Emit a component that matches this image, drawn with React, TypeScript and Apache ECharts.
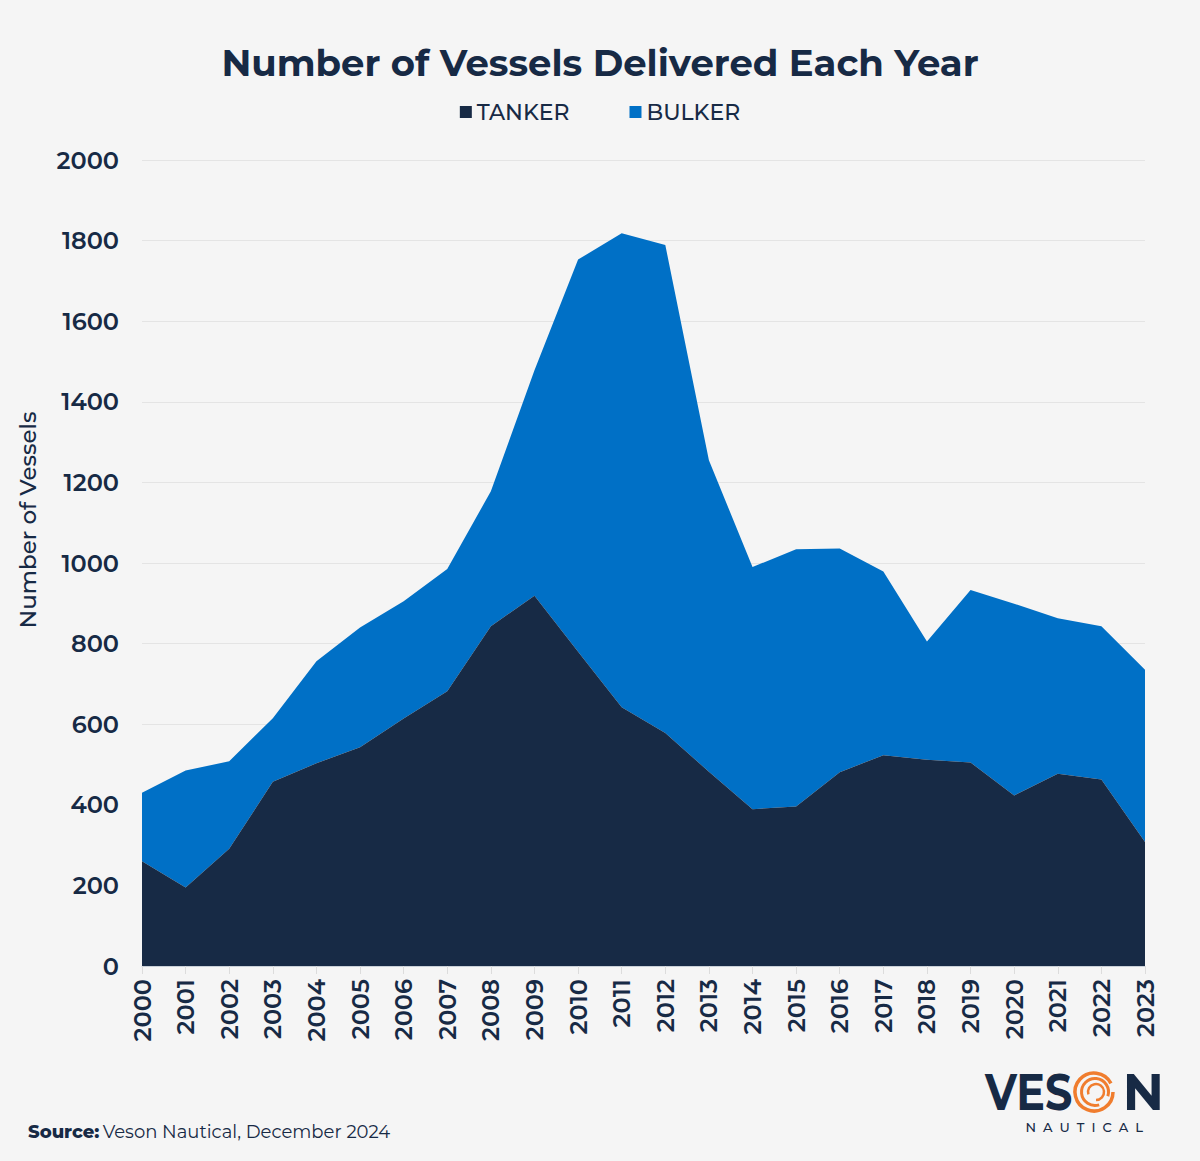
import React, { useEffect, useRef } from "react";
import * as echarts from "echarts";

const years = ["2000","2001","2002","2003","2004","2005","2006","2007","2008","2009","2010","2011","2012","2013","2014","2015","2016","2017","2018","2019","2020","2021","2022","2023"];
const tanker = [260, 195, 291, 457, 503, 543, 614, 682, 843, 919, 780, 642, 578, 482, 389, 396, 481, 523, 512, 505, 423, 477, 463, 308];
const totals = [430, 485, 508, 615, 756, 840, 905, 985, 1178, 1478, 1753, 1818, 1789, 1255, 990, 1034, 1036, 979, 805, 933, 899, 863, 843, 735];
const bulker = totals.map((t, i) => t - tanker[i]);
const yTicks = { min: 0, max: 2000, interval: 200 };

const NAVY = "#172a45";
const BLUE = "#0070c6";
const ORANGE = "#f07d2e";
const FONT = "Montserrat, Inter, 'Noto Sans', sans-serif";

export default function App() {
  const ref = useRef<HTMLDivElement>(null);
  useEffect(() => {
    document.body.style.margin = "0";
    const chart = echarts.init(ref.current!, null, { renderer: "svg" });
    chart.setOption({
      animation: false,
      backgroundColor: "#f5f5f5",
      textStyle: { fontFamily: FONT },
      title: {
        text: "Number of Vessels Delivered Each Year",
        left: "center",
        top: 39,
        textStyle: { fontSize: 37, fontWeight: 700, color: NAVY, fontFamily: FONT },
      },
      legend: {
        top: 96,
        left: "center",
        itemGap: 60,
        itemWidth: 12,
        itemHeight: 12,
        icon: "rect",
        textStyle: { fontSize: 22, color: NAVY, fontWeight: 500, fontFamily: FONT },
        data: ["TANKER", "BULKER"],
      },
      grid: { left: 142, right: 55, top: 160, bottom: 195, containLabel: false },
      xAxis: {
        type: "category",
        data: years,
        boundaryGap: false,
        axisLine: { lineStyle: { color: "#c9d0d8", width: 1 } },
        axisTick: { show: true, length: 8, lineStyle: { color: "#dcdcdc" } },
        axisLabel: { rotate: 90, fontSize: 24, color: NAVY, fontWeight: 600, margin: 13, interval: 0, fontFamily: FONT },
      },
      yAxis: {
        type: "value",
        min: yTicks.min,
        max: yTicks.max,
        interval: yTicks.interval,
        axisLine: { show: false },
        axisTick: { show: false },
        splitLine: { lineStyle: { color: "#e4e4e4", width: 1 } },
        axisLabel: {
          fontSize: 24,
          color: NAVY,
          fontWeight: 600,
          margin: 23,
          fontFamily: FONT,
          formatter: (v: number) => String(v),
        },
      },
      series: [
        {
          name: "TANKER",
          type: "line",
          stack: "total",
          data: tanker,
          symbol: "none",
          lineStyle: { width: 0 },
          areaStyle: { color: NAVY, opacity: 1 },
          itemStyle: { color: NAVY },
          z: 3,
        },
        {
          name: "BULKER",
          type: "line",
          stack: "total",
          data: bulker,
          symbol: "none",
          lineStyle: { width: 0 },
          areaStyle: { color: BLUE, opacity: 1 },
          itemStyle: { color: BLUE },
          z: 2,
        },
      ],
      graphic: [
        {
          type: "text",
          x: 28,
          y: 520,
          rotation: Math.PI / 2,
          style: {
            text: "Number of Vessels",
            fill: NAVY,
            font: `500 23px ${FONT}`,
            align: "center",
            verticalAlign: "middle",
          },
        },
        {
          type: "text",
          left: 28,
          top: 1123,
          style: {
            text: "{b|Source:} {r|Veson Nautical, December 2024}",
            rich: {
              b: { fontSize: 18, fontWeight: 800, fill: NAVY, fontFamily: FONT },
              r: { fontSize: 18, fontWeight: 400, fill: NAVY, fontFamily: FONT },
            },
          },
        },
        {
          type: "text",
          x: 985,
          y: 1092,
          scaleX: 0.84,
          originX: 0,
          style: { text: "VES", fill: NAVY, font: `700 51px ${FONT}`, align: "left", verticalAlign: "middle" },
        },
        {
          type: "text",
          x: 1164,
          y: 1092,
          scaleX: 1,
          style: { text: "N", fill: NAVY, font: `700 51px ${FONT}`, align: "right", verticalAlign: "middle" },
        },
        { type: "arc", shape: { cx: 1094, cy: 1092, r: 19, startAngle: 0, endAngle: Math.PI * 1.85 }, style: { stroke: ORANGE, lineWidth: 3.5, fill: "none" } },
        { type: "arc", shape: { cx: 1095, cy: 1092, r: 13.5, startAngle: Math.PI * 0.4, endAngle: Math.PI * 2.1 }, style: { stroke: ORANGE, lineWidth: 3, fill: "none" } },
        { type: "arc", shape: { cx: 1096, cy: 1092, r: 8, startAngle: Math.PI * 0.9, endAngle: Math.PI * 2.5 }, style: { stroke: ORANGE, lineWidth: 2.5, fill: "none" } },
        {
          type: "text",
          x: 1143,
          y: 1127,
          style: {
            text: "N  A  U  T  I  C  A  L",
            fill: NAVY,
            font: `500 13px ${FONT}`,
            align: "right",
            verticalAlign: "middle",
          },
        },
      ],
    });
    return () => chart.dispose();
  }, []);
  return <div ref={ref} style={{ width: 1200, height: 1161 }} />;
}
